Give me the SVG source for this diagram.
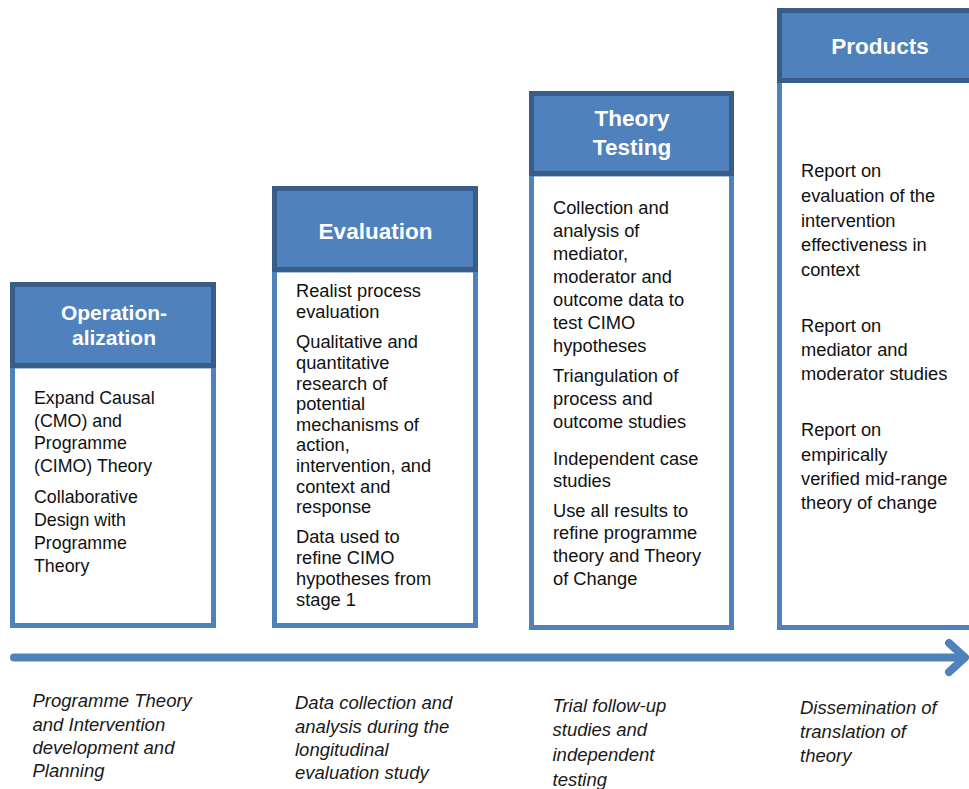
<svg xmlns="http://www.w3.org/2000/svg" width="969" height="789" viewBox="0 0 969 789">
<style>
.body{fill:#fff;stroke:#4f81bd;stroke-width:5}
.head{fill:#4f81bd;stroke:#385d8a;stroke-width:5}
.ht{font-family:"Liberation Sans",Arial,sans-serif;font-weight:bold;font-size:22.5px;fill:#fff;text-anchor:middle}
.bt{font-family:"Liberation Sans",Arial,sans-serif;font-size:18.3px;fill:#111}
.it{font-family:"Liberation Sans",Arial,sans-serif;font-size:18.5px;font-style:italic;fill:#1a1a1a}
.conn{fill:none;stroke:#4f81bd;stroke-width:8;stroke-linecap:round;stroke-linejoin:round}
</style>
<rect width="969" height="789" fill="#fff"/>
<g id="operationalization">
<rect class="body" x="12.5" y="366" width="201" height="259.5"/>
<rect class="head" x="12.5" y="284.5" width="201" height="81"/>
<text class="ht" style="font-size:21px" x="114" y="320">Operation-</text>
<text class="ht" style="font-size:21px" x="114" y="345">alization</text>
<text class="bt" style="font-size:17.8px"><tspan x="34" y="404">Expand Causal</tspan><tspan x="34" y="426.5">(CMO) and</tspan><tspan x="34" y="449">Programme</tspan><tspan x="34" y="471.5">(CIMO) Theory</tspan><tspan x="34" y="503">Collaborative</tspan><tspan x="34" y="526">Design with</tspan><tspan x="34" y="549">Programme</tspan><tspan x="34" y="572">Theory</tspan></text>
</g>
<g id="evaluation">
<rect class="body" x="274.5" y="270" width="201" height="355.5"/>
<rect class="head" x="274.5" y="188.5" width="201" height="81"/>
<text class="ht" x="375.5" y="238.5">Evaluation</text>
<text class="bt"><tspan x="296" y="296.5">Realist process</tspan><tspan x="296" y="318">evaluation</tspan><tspan x="296" y="348.3">Qualitative and</tspan><tspan x="296" y="368.9">quantitative</tspan><tspan x="296" y="389.5">research of</tspan><tspan x="296" y="410.1">potential</tspan><tspan x="296" y="430.7">mechanisms of</tspan><tspan x="296" y="451.3">action,</tspan><tspan x="296" y="471.9">intervention, and</tspan><tspan x="296" y="492.5">context and</tspan><tspan x="296" y="513.1">response</tspan><tspan x="296" y="543.3">Data used to</tspan><tspan x="296" y="564.1">refine CIMO</tspan><tspan x="296" y="584.9">hypotheses from</tspan><tspan x="296" y="605.7">stage 1</tspan></text>
</g>
<g id="theory-testing">
<rect class="body" x="531.5" y="174" width="200" height="453.5"/>
<rect class="head" x="531.5" y="93.5" width="200" height="80"/>
<text class="ht" x="632" y="125.5">Theory</text>
<text class="ht" x="632" y="155">Testing</text>
<text class="bt"><tspan x="553" y="213.5">Collection and</tspan><tspan x="553" y="236.5">analysis of</tspan><tspan x="553" y="259.5">mediator,</tspan><tspan x="553" y="282.5">moderator and</tspan><tspan x="553" y="305.5">outcome data to</tspan><tspan x="553" y="328.5">test CIMO</tspan><tspan x="553" y="351.5">hypotheses</tspan><tspan x="553" y="382">Triangulation of</tspan><tspan x="553" y="405">process and</tspan><tspan x="553" y="428">outcome studies</tspan><tspan x="553" y="464.5">Independent case</tspan><tspan x="553" y="487">studies</tspan><tspan x="553" y="516.5">Use all results to</tspan><tspan x="553" y="539.3">refine programme</tspan><tspan x="553" y="562.1">theory and Theory</tspan><tspan x="553" y="585">of Change</tspan></text>
</g>
<g id="products">
<rect class="body" x="779.5" y="80" width="200" height="547.5"/>
<rect class="head" x="779.5" y="10.5" width="200" height="70"/>
<text class="ht" x="880" y="54">Products</text>
<text class="bt"><tspan x="801" y="177.3">Report on</tspan><tspan x="801" y="202">evaluation of the</tspan><tspan x="801" y="226.7">intervention</tspan><tspan x="801" y="251.4">effectiveness in</tspan><tspan x="801" y="276">context</tspan><tspan x="801" y="331.7">Report on</tspan><tspan x="801" y="356">mediator and</tspan><tspan x="801" y="380.3">moderator studies</tspan><tspan x="801" y="436">Report on</tspan><tspan x="801" y="460.5">empirically</tspan><tspan x="801" y="485">verified mid-range</tspan><tspan x="801" y="509.3">theory of change</tspan></text>
</g>
<g id="connectors">
<line class="conn" x1="14" y1="657.5" x2="964" y2="657.5" stroke-linecap="butt"/>
<polyline class="conn" points="949,643 965,657.5 949,672"/>
</g>
<g id="captions">
<text class="it"><tspan x="32.5" y="707.3">Programme Theory</tspan><tspan x="32.5" y="730.6">and Intervention</tspan><tspan x="32.5" y="753.9">development and</tspan><tspan x="32.5" y="777.2">Planning</tspan></text>
<text class="it"><tspan x="295" y="709.3">Data collection and</tspan><tspan x="295" y="732.6">analysis during the</tspan><tspan x="295" y="755.9">longitudinal</tspan><tspan x="295" y="779.2">evaluation study</tspan></text>
<text class="it"><tspan x="552.5" y="711.5">Trial follow-up</tspan><tspan x="552.5" y="736.2">studies and</tspan><tspan x="552.5" y="760.9">independent</tspan><tspan x="552.5" y="785.6">testing</tspan></text>
<text class="it"><tspan x="800" y="713.5">Dissemination of</tspan><tspan x="800" y="737.7">translation of</tspan><tspan x="800" y="761.9">theory</tspan></text>
</g>
</svg>
